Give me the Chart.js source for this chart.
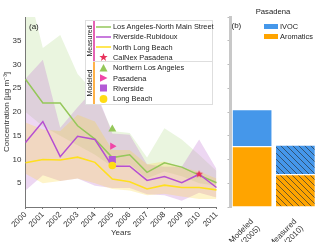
<!DOCTYPE html>
<html>
<head>
    <title>Concentration chart</title>
    <script src="https://cdn.jsdelivr.net/npm/chart.js"></script>
    <style>
        body { margin: 0; width: 320px; height: 242px; position: relative; overflow: hidden; background: #fff;
               font-family: "Liberation Sans", Arial, sans-serif; color: #222; }
        canvas { position: absolute; top: 0; }
        #chartA { left: 0; }
        #chartB { left: 219px; }
        .txt { position: absolute; white-space: nowrap; transform: translateY(-50%); }
        #legA { position: absolute; left: 85px; top: 20px; width: 128px; height: 85px; box-sizing: border-box;
                border: 1px solid #dedede; background: #fff; font-size: 7.4px; }
        .row { position: absolute; left: 10px; height: 9px; transform: translateY(-50%); }
        .row svg { position: absolute; left: 0; top: 0; }
        .row span { position: absolute; left: 17px; top: 50%; transform: translateY(-50%); white-space: nowrap; }
        .vt { position: absolute; left: 2.5px; font-size: 7px; white-space: nowrap; transform: translate(-50%, -50%) rotate(-90deg); }
        .bar { position: absolute; left: 7px; width: 1.5px; }
        .sw { position: absolute; left: 264px; width: 14px; height: 5px; }
    </style>
</head>
<body>
    <canvas id="chartA" width="222" height="242"></canvas>
    <canvas id="chartB" width="101" height="242"></canvas>

    <div class="txt" style="left:29px;top:26px;font-size:8px">(a)</div>
    <div class="txt" style="left:231.5px;top:25px;font-size:8px">(b)</div>
    <div class="txt" style="left:273px;top:10.5px;font-size:7.7px;transform:translate(-50%,-50%)">Pasadena</div>
    <div class="sw" style="top:23.5px;background:#4597ea"></div>
    <div class="txt" style="left:280px;top:26px;font-size:7.4px">IVOC</div>
    <div class="sw" style="top:33.8px;background:#ffa400"></div>
    <div class="txt" style="left:280px;top:36.3px;font-size:7.4px">Aromatics</div>

    <div id="legA">
        <div class="bar" style="top:0;height:40px;background:#e564b4"></div>
        <div class="bar" style="top:40px;height:43px;background:#ffb24a"></div>
        <div style="position:absolute;left:7px;right:0;top:40px;border-top:1px solid #dedede"></div>
        <div class="vt" style="top:20px">Measured</div>
        <div class="vt" style="top:62px">Modeled</div>
    </div>

    <script>
        const years = ['2000', '2001', '2002', '2003', '2004', '2005', '2006', '2007', '2008', '2009', '2010', '2011'];

        // measured yearly means
        const laMain = [26.9, 21.9, 21.9, 17.1, 14.3, 10.4, 11.0, 7.3, 9.3, 8.4, 6.7, 5.1];
        const rivRub = [13.6, 18.0, 10.6, 14.9, 14.2, 8.6, 8.6, 5.6, 6.4, 5.1, 6.9, 4.1];
        const longBeach = [9.3, 10.0, 9.9, 10.5, 9.4, 5.9, 5.3, 3.8, 4.6, 4.1, 4.1, 3.6];

        // shaded ranges
        const laHigh = [48, 33.5, 36.2, 28, 24, 16, 15.6, 10.4, 16.6, 14.2, 11, 7.6];
        const laLow = [20, 17, 15, 13, 11, 8.5, 9, 6, 7.5, 6.5, 5, 4.5];
        const rivHigh = [27, 31, 16.7, 21, 25, 15.5, 15.2, 9, 8.5, 8.5, 14.2, 8];
        const rivLow = [3.5, 6.7, 5.5, 6, 4.5, 4, 4, 2.7, 2.5, 1.3, 3, 2];
        const lbHigh = [17.8, 16.3, 16, 19.4, 18, 12, 12, 9, 9.6, 8.3, 7.5, 6];
        const lbLow = [7, 5, 5.5, 6, 5, 3.8, 3.5, 2.5, 2.8, 2.2, 1.7, 1.7];

        // single points
        const calnexPasadena = 6.9;   // 2010
        const modNorthLA = 16.4;      // 2005
        const modPasadena = 12.8;
        const modRiverside = 10.0;
        const modLongBeach = 8.75;

        // panel (b)
        const barCats = [['Modeled', '(2005)'], ['Measured', '(2010)']];
        const aromatics = [12.8, 6.9];
        const ivoc = [7.8, 6.2];

        const measuredNames = ['Los Angeles-North Main Street', 'Riverside-Rubidoux', 'North Long Beach', 'CalNex Pasadena'];
        const modeledNames = ['Northern Los Angeles', 'Pasadena', 'Riverside', 'Long Beach'];

        const cGreen = '#95c75a', cPurple = '#b64fd2', cYellow = '#ffdf1e';
        const cStar = '#e8305a', cPink = '#f046a8', cSquare = '#b35ad6', cDot = '#ffdc14';

        const at = (year, v) => years.map(y => y === year ? v : null);

        function starImage(r, color) {
            const c = document.createElement('canvas');
            c.width = c.height = 2 * r + 2;
            const g = c.getContext('2d');
            g.fillStyle = color;
            g.beginPath();
            for (let i = 0; i < 10; i++) {
                const rad = i % 2 ? r * 0.45 : r;
                const a = -Math.PI / 2 + i * Math.PI / 5;
                g.lineTo(r + 1 + rad * Math.cos(a), r + 1 + rad * Math.sin(a));
            }
            g.closePath();
            g.fill();
            return c;
        }

        function hatch(base) {
            const c = document.createElement('canvas');
            c.width = c.height = 6;
            const g = c.getContext('2d');
            g.fillStyle = base;
            g.fillRect(0, 0, 6, 6);
            g.strokeStyle = 'rgba(40,50,60,0.85)';
            g.lineWidth = 0.8;
            g.beginPath();
            g.moveTo(0, 0); g.lineTo(6, 6);
            g.moveTo(-1, 5); g.lineTo(1, 7);
            g.moveTo(5, -1); g.lineTo(7, 1);
            g.stroke();
            return g.createPattern(c, 'repeat');
        }

        // legend rows for panel (a)
        const symbols = [
            `<line x1="0" y1="4.5" x2="15" y2="4.5" stroke="${cGreen}" stroke-width="1.5"/>`,
            `<line x1="0" y1="4.5" x2="15" y2="4.5" stroke="${cPurple}" stroke-width="1.5"/>`,
            `<line x1="0" y1="4.5" x2="15" y2="4.5" stroke="${cYellow}" stroke-width="1.5"/>`,
            `<polygon points="7.5,0.5 8.6,3.4 11.6,3.5 9.2,5.4 10.1,8.4 7.5,6.6 4.9,8.4 5.8,5.4 3.4,3.5 6.4,3.4" fill="${cStar}"/>`,
            `<polygon points="7.5,0.5 11.5,8 3.5,8" fill="${cGreen}"/>`,
            `<polygon points="4,0.8 11.5,4.5 4,8.2" fill="${cPink}"/>`,
            `<rect x="4" y="1" width="7" height="7" fill="${cSquare}"/>`,
            `<circle cx="7.5" cy="4.5" r="3.9" fill="${cDot}"/>`
        ];
        const legA = document.getElementById('legA');
        measuredNames.concat(modeledNames).forEach((name, i) => {
            const row = document.createElement('div');
            row.className = 'row';
            row.style.top = (5.5 + i * 10.3) + 'px';
            row.innerHTML = `<svg width="16" height="9">${symbols[i]}</svg><span>${name}</span>`;
            legA.appendChild(row);
        });

        function band(high, low, color) {
            return [
                { data: high, fill: '+1', backgroundColor: color, borderWidth: 0, pointRadius: 0 },
                { data: low, fill: false, borderWidth: 0, pointRadius: 0 }
            ];
        }

        function marker(data, style, radius, color, rotation) {
            return { data: data, showLine: false, pointStyle: style, pointRadius: radius, rotation: rotation || 0,
                     backgroundColor: color, borderColor: color, borderWidth: 0, fill: false };
        }

        const font = { family: '"Liberation Sans", Arial, sans-serif', size: 8 };

        // first dataset is painted on top
        new Chart(document.getElementById('chartA'), {
            type: 'line',
            data: {
                labels: years,
                datasets: [
                    marker(at('2010', calnexPasadena), starImage(4, cStar), 4, cStar),
                    marker(at('2005', modLongBeach), 'circle', 3.8, cDot),
                    marker(at('2005', modRiverside), 'rect', 5, cSquare),
                    marker(at('2005', modPasadena), 'triangle', 4.2, cPink, 90),
                    marker(at('2005', modNorthLA), 'triangle', 4.6, cGreen),
                    { data: longBeach, borderColor: cYellow, borderWidth: 1.6, pointRadius: 0, fill: false, tension: 0 },
                    { data: rivRub, borderColor: cPurple, borderWidth: 1.5, pointRadius: 0, fill: false, tension: 0 },
                    { data: laMain, borderColor: cGreen, borderWidth: 1.5, pointRadius: 0, fill: false, tension: 0 },
                    ...band(lbHigh, lbLow, 'rgba(250,215,60,0.27)'),
                    ...band(rivHigh, rivLow, 'rgba(190,110,210,0.28)'),
                    ...band(laHigh, laLow, 'rgba(160,210,110,0.22)')
                ]
            },
            options: {
                responsive: false,
                animation: false,
                devicePixelRatio: 1,
                layout: { padding: { top: 17, right: 5.5, left: 0, bottom: 0 } },
                plugins: { legend: { display: false }, tooltip: { enabled: false } },
                scales: {
                    x: {
                        offset: false,
                        grid: { drawOnChartArea: false, tickLength: 2, color: '#777' },
                        border: { color: '#777' },
                        ticks: { font: font, color: '#333', minRotation: 45, maxRotation: 45, padding: 1, autoSkip: false },
                        title: { display: true, text: 'Years', font: font, color: '#333', padding: { top: 0, bottom: 4 } },
                        afterFit: s => { s.height = 35; s.paddingLeft = 0; s.paddingRight = 0; }
                    },
                    y: {
                        min: 0, max: 40,
                        grid: { drawOnChartArea: false, drawTicks: false },
                        border: { color: '#777' },
                        ticks: { stepSize: 5, font: font, color: '#333', padding: 4,
                                 callback: v => (v === 0 || v === 40) ? '' : v },
                        title: { display: true, text: 'Concentration [µg m⁻³]', font: font, color: '#333', padding: 2 },
                        afterFit: s => { s.width = 25.5; }
                    }
                }
            }
        });

        new Chart(document.getElementById('chartB'), {
            type: 'bar',
            data: {
                labels: barCats,
                datasets: [
                    { label: 'Aromatics', data: aromatics, backgroundColor: ['#ffa400', hatch('#ffa400')],
                      borderColor: 'rgba(255,255,255,0.85)', borderWidth: 1 },
                    { label: 'IVOC', data: ivoc, backgroundColor: ['#4597ea', hatch('#4597ea')],
                      borderColor: 'rgba(255,255,255,0.85)', borderWidth: 1 }
                ]
            },
            options: {
                responsive: false,
                animation: false,
                devicePixelRatio: 1,
                layout: { padding: { top: 17, right: 3, left: 0, bottom: 0 } },
                plugins: { legend: { display: false }, tooltip: { enabled: false } },
                datasets: { bar: { categoryPercentage: 1, barPercentage: 0.94 } },
                scales: {
                    x: {
                        stacked: true,
                        grid: { display: false },
                        border: { display: false },
                        ticks: { font: font, color: '#333', minRotation: 45, maxRotation: 45, padding: 2 },
                        afterFit: s => { s.height = 35; s.paddingLeft = 0; s.paddingRight = 0; }
                    },
                    y: {
                        stacked: true,
                        min: 0, max: 40,
                        grid: { drawOnChartArea: false, tickLength: 3, color: '#bbb' },
                        border: { color: '#c8c8c8', width: 3 },
                        ticks: { stepSize: 5, display: false },
                        afterFit: s => { s.width = 11.5; }
                    }
                }
            }
        });
    </script>
</body>
</html>
